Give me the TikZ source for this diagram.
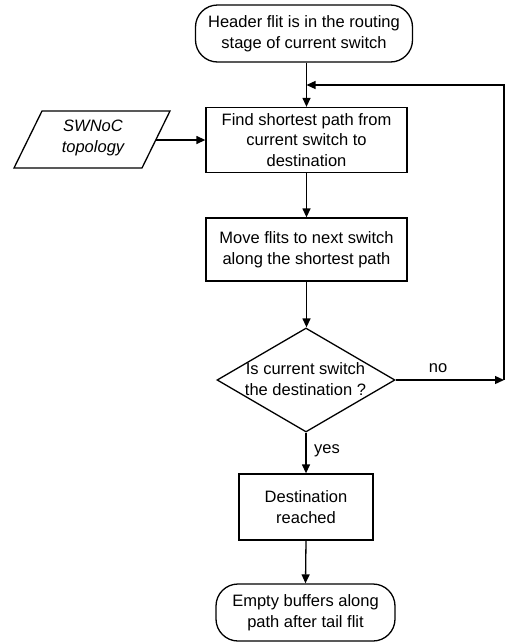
\documentclass[tikz,border=0pt]{standalone}
\usepackage{fontspec}
\setmainfont{Liberation Sans}
\usetikzlibrary{arrows.meta,shapes.geometric}

\tikzset{
  flow/.style={line width=1.3pt},
  arr/.style={flow,-{Triangle[length=9pt,width=8pt]}},
  txt/.style={font=\fontsize{16.5}{20.5}\selectfont, align=center, inner sep=0pt},
  terminal/.style={draw, flow, rounded corners=22pt, minimum width=#1, minimum height=57pt, inner sep=0pt},
  process/.style={draw, flow, minimum width=201pt, minimum height=65pt, inner sep=0pt},
  decision/.style={draw, flow, diamond, minimum width=178pt, minimum height=104pt, inner sep=0pt},
  lbl/.style={font=\fontsize{16.5}{20}\selectfont, inner sep=0pt}
}

\begin{document}
\begin{tikzpicture}[x=1pt, y=-1pt]
  \useasboundingbox (0,0) rectangle (508,643);

  % start / end terminals
  \node[terminal=217pt] (start) at (304,33.5) {};
  \node[txt] at (start) {Header flit is in the routing\\stage of current switch};

  % processing steps
  \node[process] (find) at (306.5,140) {};
  \node[txt] at (find) {Find shortest path from\\current switch to\\destination};

  \node[process, minimum height=63pt] (move) at (306.5,249.5) {};
  \node[txt] at (move) {Move flits to next switch\\along the shortest path};

  \node[decision] (check) at (306,380) {};
  \node[txt] at (305.5,379) {Is current switch\\the destination ?};

  \node[process, minimum width=134pt, minimum height=66pt] (reached) at (306,507) {};
  \node[txt] at (reached) {Destination\\reached};

  \node[terminal=179pt] (empty) at (305.5,612.5) {};
  \node[txt] at (empty) {Empty buffers along\\path after tail flit};

  % input data: network topology
  \draw[flow] (42,111) -- (170,111) -- (142,168) -- (14,168) -- cycle;
  \node[txt, font=\fontsize{16.5}{20.5}\selectfont\itshape] (topo) at (93,138) {SWNoC\\topology};
  \coordinate (topoout) at (156,140);

  % loop-back corner points
  \coordinate (loopA) at (504,380);
  \coordinate (loopB) at (504,85);
  \coordinate (merge) at (306.5,85);

  % connectors
  \draw[arr] (start.south -| merge) -- (find.north -| merge);
  \draw[arr] (topoout) -- (topoout -| find.west);
  \draw[arr] (find.south -| merge) -- (move.north -| merge);
  \draw[arr] (move.south -| merge) -- (check.north -| merge);
  \draw[arr] (check.east) -- (loopA);
  \draw[arr] (loopA) -- (loopB) -- (merge);
  \draw[arr] (check.south) -- (reached.north);
  \draw[arr] (reached.south) -- (empty.north);

  % branch labels
  \node[lbl] at (438,368) {no};
  \node[lbl] at (327,451) {yes};
\end{tikzpicture}
\end{document}
